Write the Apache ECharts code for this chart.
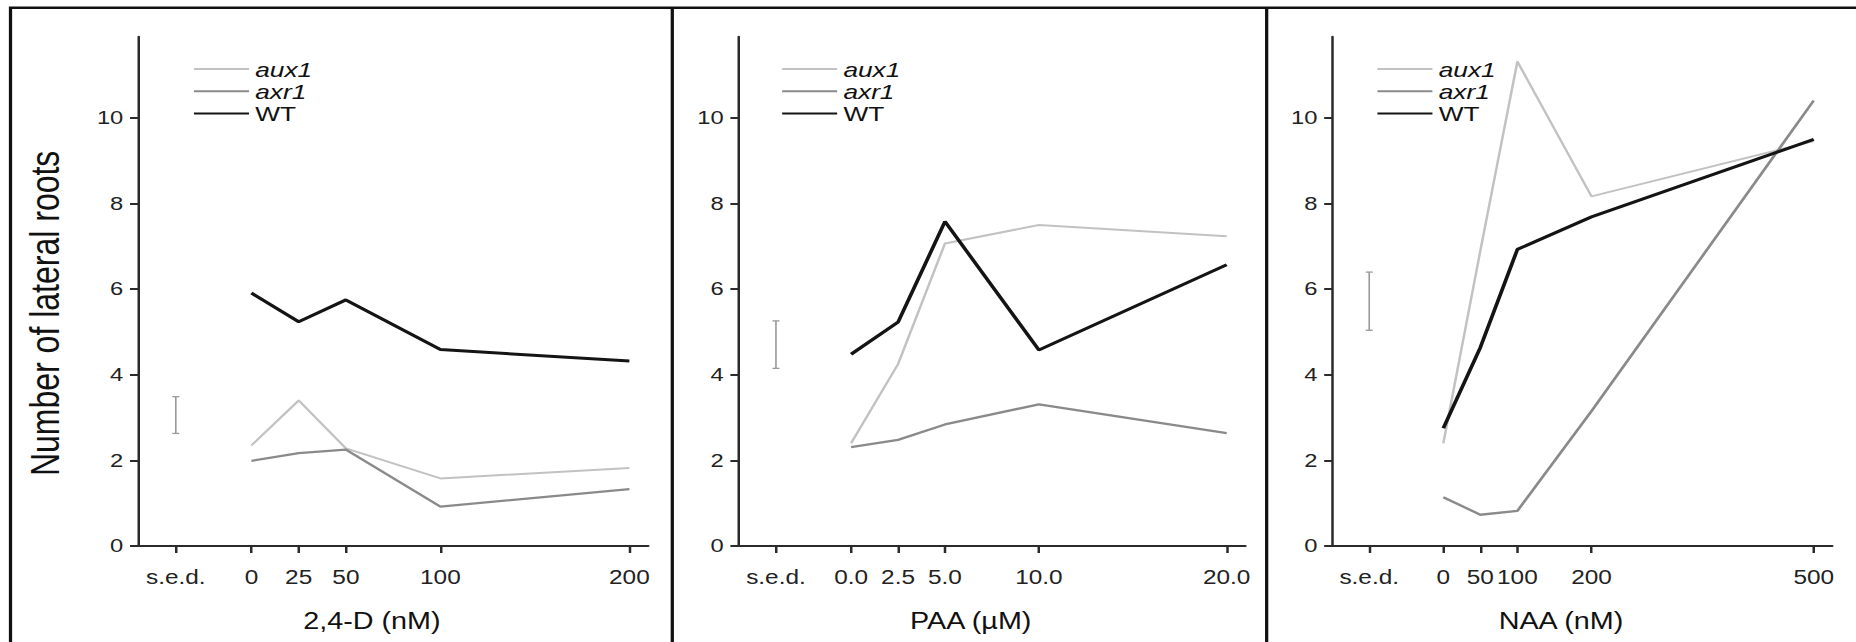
<!DOCTYPE html>
<html><head><meta charset="utf-8">
<script src="https://cdn.jsdelivr.net/npm/echarts@6/dist/echarts.min.js"></script>
<style>
html,body{margin:0;padding:0;background:#fff;overflow:hidden;width:1856px;height:642px}
#c{width:1485px;height:642px;transform:scaleX(1.25);transform-origin:0 0;}
</style></head>
<body><div id="c"></div>
<script>
// ---- data ----
const seriesNames = ['aux1', 'axr1', 'WT'];
const sedLabel = 's.e.d.';

const dose24D = [0, 25, 50, 100, 200];
const tick24D = ['0', '25', '50', '100', '200'];
const aux1_24D = [2.35, 3.40, 2.28, 1.58, 1.82];
const axr1_24D = [1.99, 2.17, 2.25, 0.92, 1.33];
const wt_24D   = [5.91, 5.24, 5.75, 4.59, 4.32];
const sed24D   = [2.63, 3.49];

const dosePAA = [0, 2.5, 5, 10, 20];
const tickPAA = ['0.0', '2.5', '5.0', '10.0', '20.0'];
const aux1_PAA = [2.40, 4.25, 7.07, 7.50, 7.24];
const axr1_PAA = [2.31, 2.48, 2.84, 3.31, 2.64];
const wt_PAA   = [4.48, 5.23, 7.58, 4.58, 6.57];
const sedPAA   = [4.15, 5.26];

const doseNAA = [0, 50, 100, 200, 500];
const tickNAA = ['0', '50', '100', '200', '500'];
const aux1_NAA = [2.40, 6.90, 11.32, 8.17, 9.46];
const axr1_NAA = [1.14, 0.73, 0.82, 3.15, 10.41];
const wt_NAA   = [2.75, 4.64, 6.93, 7.69, 9.50];
const sedNAA   = [5.04, 6.40];

const yTitle = 'Number of lateral roots';
const xTitles = ['2,4-D (nM)', 'PAA (\u00b5M)', 'NAA (nM)'];

// ---- layout ----
const S = 1856 / 1485;
const px = v => v / S;
const FONT = "'Liberation Sans', Arial, Helvetica, sans-serif";

const panels = [
  { dose: dose24D, ticks: tick24D, vals: [aux1_24D, axr1_24D, wt_24D], sed: sed24D, sedX: -40, min: -60, max: 210, left: 138, right: 648.2, legendLeft: 192.7 },
  { dose: dosePAA, ticks: tickPAA, vals: [aux1_PAA, axr1_PAA, wt_PAA], sed: sedPAA, sedX: -4, min: -6, max: 21, left: 738.3, right: 1245.3, legendLeft: 780.8 },
  { dose: doseNAA, ticks: tickNAA, vals: [aux1_NAA, axr1_NAA, wt_NAA], sed: sedNAA, sedX: -100, min: -150, max: 525, left: 1332, right: 1832, legendLeft: 1376 }
];

const lineStyles = [
  { color: '#c2c2c2', width: 2 },
  { color: '#8a8a8a', width: 2.3 },
  { color: '#141414', width: 3 }
];

const axisColor = '#2b2b2b';
const grids = [], xAxes = [], yAxes = [], series = [], legends = [];

panels.forEach((p, i) => {
  grids.push({ left: px(p.left), top: 36.7, width: px(p.right - p.left), height: 509.3, outerBoundsMode: 'none' });
  xAxes.push({
    type: 'value', gridIndex: i, min: p.min, max: p.max,
    splitLine: { show: false },
    axisLine: { onZero: false, lineStyle: { color: axisColor, width: 2 } },
    axisTick: { customValues: [p.sedX].concat(p.dose), length: 7, lineStyle: { color: axisColor, width: 2 } },
    axisLabel: {
      customValues: [p.sedX].concat(p.dose), margin: 21,
      fontFamily: FONT, fontSize: 19.5, color: '#222',
      formatter: v => { const k = p.dose.indexOf(v); return k >= 0 ? p.ticks[k] : sedLabel; }
    },
    name: xTitles[i], nameLocation: 'middle', nameGap: 64,
    nameTextStyle: { fontFamily: FONT, fontSize: 23, color: '#111', padding: [0, 34, 0, 0] }
  });
  yAxes.push({
    type: 'value', gridIndex: i, min: 0, max: 11.9, interval: 2,
    splitLine: { show: false },
    axisLine: { onZero: false, lineStyle: { color: axisColor, width: 2 } },
    axisTick: { length: px(8), lineStyle: { color: axisColor, width: 2 } },
    axisLabel: { margin: px(14.7), fontFamily: FONT, fontSize: 19, color: '#222', showMaxLabel: false },
    name: i === 0 ? yTitle : '', nameLocation: 'middle', nameGap: 58,
    nameTextStyle: { fontFamily: FONT, fontSize: 32, color: '#111', padding: [0, 44, 0, 0] }
  });
  seriesNames.forEach((n, k) => {
    series.push({
      type: 'line', name: n, xAxisIndex: i, yAxisIndex: i,
      symbol: 'none', showSymbol: false, silent: true,
      data: p.dose.map((d, j) => [d, p.vals[k][j]]),
      lineStyle: { color: lineStyles[k].color, width: lineStyles[k].width },
      itemStyle: { color: lineStyles[k].color },
      z: 2 + k
    });
  });
  series.push({
    type: 'custom', name: sedLabel, xAxisIndex: i, yAxisIndex: i, silent: true,
    data: [[p.sedX, p.sed[0], p.sed[1]]],
    renderItem: (params, api) => {
      const x = api.value(0);
      const a = api.coord([x, api.value(1)]);
      const b = api.coord([x, api.value(2)]);
      const w = px(3.5);
      const st = { stroke: '#9a9a9a', lineWidth: 1.3 };
      return { type: 'group', children: [
        { type: 'line', shape: { x1: a[0], y1: a[1], x2: b[0], y2: b[1] }, style: st },
        { type: 'line', shape: { x1: a[0] - w, y1: a[1], x2: a[0] + w, y2: a[1] }, style: st },
        { type: 'line', shape: { x1: b[0] - w, y1: b[1], x2: b[0] + w, y2: b[1] }, style: st }
      ] };
    }
  });
  legends.push({
    data: seriesNames, left: px(p.legendLeft), top: 58.5, orient: 'vertical',
    padding: 0, itemGap: 1.3, itemWidth: px(55), itemHeight: 14, selectedMode: false,
    itemStyle: { opacity: 0 },
    formatter: n => n === 'WT' ? '{n|WT}' : '{i|' + n + '}',
    textStyle: {
      fontFamily: FONT, fontSize: 21, color: '#111', lineHeight: 14,
      rich: { i: { fontStyle: 'italic', fontFamily: FONT, fontSize: 21, color: '#111', lineHeight: 14 },
              n: { fontFamily: FONT, fontSize: 21, color: '#111', lineHeight: 14 } }
    }
  });
});

const frame = { stroke: '#111', lineWidth: 2.6, fill: null };
const option = {
  animation: false,
  backgroundColor: '#fff',
  grid: grids, xAxis: xAxes, yAxis: yAxes, series: series, legend: legends,
  graphic: [
    { type: 'polyline', silent: true, shape: { points: [[px(10.5), 700], [px(10.5), 7.7], [1500, 7.7]] }, style: frame },
    { type: 'line', silent: true, shape: { x1: px(672.2), y1: 7.7, x2: px(672.2), y2: 700 }, style: frame },
    { type: 'line', silent: true, shape: { x1: px(1266.5), y1: 7.7, x2: px(1266.5), y2: 700 }, style: frame }
  ]
};
const chart = echarts.init(document.getElementById('c'), null, { renderer: 'svg' });
chart.setOption(option);
</script></body></html>
